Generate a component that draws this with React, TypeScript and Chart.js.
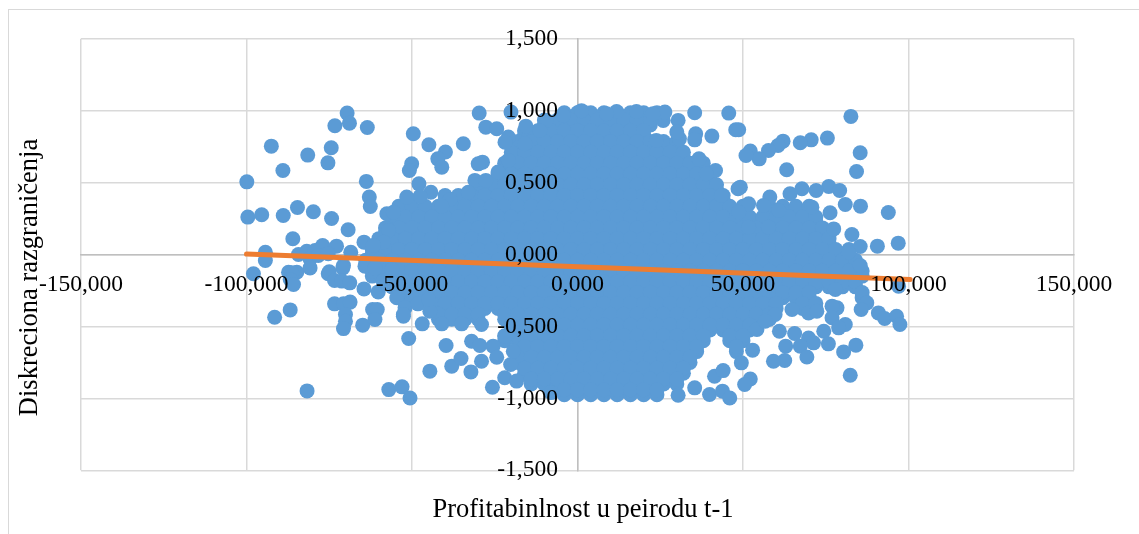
import React, { useEffect, useRef } from "react";
import { Chart, registerables } from "chart.js";

Chart.register(...registerables);

const X_TITLE = "Profitabinlnost u peirodu t-1";
const Y_TITLE = "Diskreciona razgraničenja";

const trendX = [-100, 100.5];
const trendY = [0.003, -0.174];

// outlying points read one by one: [x, y]
const upperLeft = [[-69.6,.983],[-68.9,.913],[-73.3,.895],[-63.5,.883],[-92.5,.753],[-74.4,.742],[-81.5,.691],[-75.4,.637],[-89,.584],[-99.9,.505],[-63.8,.508],[-62.9,.399],[-62.6,.334],[-99.6,.26],[-95.4,.276],[-88.9,.271],[-84.6,.327],[-79.8,.297],[-74.3,.25],[-69.3,.172],[-86,.109],[-64.5,.086],[-94.3,.016],[-94.3,-.042],[-84.3,0],[-81.8,.023],[-79.3,.028],[-77,.063],[-72.8,.058],[-68.5,.016],[-80.8,-.03],[-78.3,-.007],[-75.3,.005],[-70.7,-.076],[-57.6,.283],[-55.6,.294],[-57.1,.167],[-58.6,.086],[-61.7,.063]];
const lowerLeft = [[-97.9,-.134],[-87.3,-.123],[-84.8,-.123],[-75.3,-.134],[-86.3,-.127],[-86.8,-.174],[-85.8,-.209],[-80.8,-.093],[-75,-.12],[-70.9,-.093],[-73.4,-.181],[-71.2,-.185],[-68.8,-.197],[-64.5,-.239],[-60.2,-.26],[-58.7,-.185],[-64.2,-.081],[-61.2,-.093],[-56.1,-.104],[-54.6,-.301],[-52.1,-.371],[-86.8,-.385],[-91.5,-.436],[-73.4,-.343],[-70.7,-.343],[-68.7,-.331],[-70.1,-.417],[-70.1,-.464],[-70.7,-.515],[-64.9,-.491],[-61.9,-.383],[-60.5,-.383],[-61.2,-.452],[-52.6,-.429],[-81.7,-.948],[-57,-.939],[-53,-.92],[-50.6,-.997],[-51,-.584],[-44.6,-.811],[-39.7,-.633],[-38,-.776],[-35.2,-.723],[-32.2,-.816],[-32,-.603],[-29.5,-.633],[-29,-.742],[-25.5,-.637],[-24.4,-.714],[-25.7,-.923],[-22,-.857],[-20.2,-.765],[-46.9,-.482],[-41,-.482],[-35,-.482],[-29,-.487],[-48.2,-.343],[-44.6,-.394],[-45,-.313],[-52.6,-.417],[-21.9,-.568],[-19.4,-.672],[-18.4,-.88],[-8,-.96]];
const lowerRight = [[97,-.22],[87.4,-.336],[85.7,-.382],[90.9,-.406],[92.8,-.445],[96.4,-.429],[97.4,-.487],[80.9,-.487],[78.4,-.371],[76.9,-.359],[76.9,-.44],[74.4,-.533],[78.9,-.51],[64.8,-.382],[69.8,-.406],[72.3,-.394],[65.6,-.549],[61,-.533],[69.8,-.58],[71.3,-.614],[67.3,-.637],[75.8,-.621],[84.1,-.63],[80.4,-.677],[62.9,-.637],[62.6,-.737],[59.2,-.742],[69.3,-.712],[82.4,-.839],[52.9,-.665],[49.5,-.753],[52.2,-.865],[50.5,-.904],[54.2,-.521],[59.7,-.417],[56.7,-.464],[77.9,-.243],[35.4,-.927],[39.9,-.973],[43.8,-.95],[46,-.997],[41.4,-.846],[44,-.807],[30.4,-.978]];
const upperRight = [[82.6,.96],[85.4,.707],[84.3,.577],[75.5,.809],[70.6,.797],[67.3,.777],[62.1,.788],[60.6,.758],[57.7,.723],[52.2,.719],[54.9,.665],[50.9,.688],[48.7,.867],[63.2,.589],[75.9,.473],[79.2,.445],[72.1,.445],[67.8,.457],[64.2,.422],[58.1,.399],[49.2,.468],[51.7,.352],[56.2,.341],[85.5,.336],[80.9,.348],[76.3,.29],[70.8,.329],[93.9,.292],[82.9,.139],[85.4,.056],[90.6,.058],[96.9,.079],[81.9,.016],[77.4,.178],[85.4,-.076],[60.8,.306],[48.7,.294],[51.7,.19],[57.7,.19]];
const topEdge = [[-29.7,.983],[-49.6,.839],[-44.9,.763],[-34.5,.77],[-39.9,.712],[-42.2,.665],[-41,.607],[-50.1,.63],[-50.8,.584],[-28.7,.642],[-30,.63],[-27.7,.885],[-24.4,.874],[-20.1,.99],[-15.6,.892],[-20.9,.816],[-21.9,.781],[-15.9,.77],[-47.9,.491],[-44.3,.433],[-47.6,.403],[-51.6,.399],[-38.5,.382],[-41,.336],[-31,.515],[-27.7,.515],[-33,.433],[-24,.573],[-20.9,.654],[35.4,.985],[45.7,.983],[47.8,.867],[35.7,.839],[35.4,.797],[40.6,.823],[36.7,.665],[41.7,.584],[38.9,.561],[48.5,.457],[43.5,.41],[23.8,.793],[25.9,.932],[30.4,.932],[30.8,.804],[30,.851],[26.4,.99],[22.8,.978],[17.8,.994],[11.8,.994],[8.8,.978],[1.2,1],[-4.3,.967],[-9.4,.932],[-11.4,.862]];

// the solid middle of the cloud, band by band from the top
const coreLevels = [.975,.9,.825,.75,.675,.6,.525,.45,.375,.3,.225,.15,.075,0,-.075,-.15,-.225,-.3,-.375,-.45,-.525,-.6,-.675,-.75,-.825,-.9,-.975];
// a second, in-between set of levels for the same bands
const betweenLevels = [.985,.935,.86,.785,.71,.635,.56,.485,.41,.335,.26,.185,.11,.035,-.04,-.115,-.19,-.265,-.34,-.415,-.49,-.565,-.64,-.715,-.79,-.865,-.94];
const coreBands = [
  [-4,0,4,8,12,16,20,24],
  [-10,-6,-2,2,6,10,14,18,22],
  [-16,-12,-8,-4,0,4,8,12,16,20],
  [-18,-14,-10,-6,-2,2,6,10,14,18,22,26,30],
  [-20,-16,-12,-8,-4,0,4,8,12,16,20,24,28,32],
  [-22,-18,-14,-10,-6,-2,2,6,10,14,18,22,26,30,34,38],
  [-24,-20,-16,-12,-8,-4,0,4,8,12,16,20,24,28,32,36,40],
  [-30,-26,-22,-18,-14,-10,-6,-2,2,6,10,14,18,22,26,30,34,38,42],
  [-40,-36,-32,-28,-24,-20,-16,-12,-8,-4,0,4,8,12,16,20,24,28,32,36,40,44],
  [-54,-50,-46,-42,-38,-34,-30,-26,-22,-18,-14,-10,-6,-2,2,6,10,14,18,22,26,30,34,38,42,46,50,58,62,66,70],
  [-56,-52,-48,-44,-40,-36,-32,-28,-24,-20,-16,-12,-8,-4,0,4,8,12,16,20,24,28,32,36,40,44,48,52,56,60,64,68,72],
  [-58,-54,-50,-46,-42,-38,-34,-30,-26,-22,-18,-14,-10,-6,-2,2,6,10,14,18,22,26,30,34,38,42,46,50,54,58,62,66,70,74],
  [-60,-56,-52,-48,-44,-40,-36,-32,-28,-24,-20,-16,-12,-8,-4,0,4,8,12,16,20,24,28,32,36,40,44,48,52,56,60,64,68,72,76],
  [-62,-58,-54,-50,-46,-42,-38,-34,-30,-26,-22,-18,-14,-10,-6,-2,2,6,10,14,18,22,26,30,34,38,42,46,50,54,58,62,66,70,74,78,82],
  [-64,-60,-56,-52,-48,-44,-40,-36,-32,-28,-24,-20,-16,-12,-8,-4,0,4,8,12,16,20,24,28,32,36,40,44,48,52,56,60,64,68,72,76,80,84],
  [-62,-58,-54,-50,-46,-42,-38,-34,-30,-26,-22,-18,-14,-10,-6,-2,2,6,10,14,18,22,26,30,34,38,42,46,50,54,58,62,66,70,74,78,82,86],
  [-56,-52,-48,-44,-40,-36,-32,-28,-24,-20,-16,-12,-8,-4,0,4,8,12,16,20,24,28,32,36,40,44,48,52,56,60,64,68,72,76,80,84],
  [-54,-50,-46,-42,-38,-34,-30,-26,-22,-18,-14,-10,-6,-2,2,6,10,14,18,22,26,30,34,38,42,46,50,54,58,62,66,70,86],
  [-44,-40,-36,-32,-28,-24,-20,-16,-12,-8,-4,0,4,8,12,16,20,24,28,32,36,40,44,48,52,56,60,68,72],
  [-42,-38,-34,-30,-22,-18,-14,-10,-6,-2,2,6,10,14,18,22,26,30,34,38,42,46,50,54,58],
  [-20,-16,-12,-8,-4,0,4,8,12,16,20,24,28,32,36,40,44,48,52],
  [-22,-18,-14,-10,-6,-2,2,6,10,14,18,22,26,30,34,38,46,50],
  [-16,-12,-8,-4,0,4,8,12,16,20,24,28,32,36,48],
  [-18,-14,-10,-6,-2,2,6,10,14,18,22,26,30,34],
  [-16,-12,-8,-4,0,4,8,12,16,20,24,28,32],
  [-14,-10,-6,-2,2,6,10,14,18,22,26,30],
  [-4,0,4,8,12,16,20,24],
];

const xMin = -150, xMax = 150, xStep = 50;
const yMin = -1.5, yMax = 1.5, yStep = 0.5;

const FONT = '"Liberation Serif"';
const GRID = "#d9d9d9";
const AXIS = "#bfbfbf";

const axisTitles = {
  id: "axisTitles",
  afterDraw(chart: any) {
    const ctx = chart.ctx;
    ctx.save();
    ctx.fillStyle = "#000";
    ctx.font = `26.5px ${FONT}`;
    ctx.textAlign = "center";
    ctx.textBaseline = "middle";
    ctx.fillText(X_TITLE, 583, 510);
    ctx.translate(30, 277.5);
    ctx.rotate(-Math.PI / 2);
    ctx.fillText(Y_TITLE, 0, 0);
    ctx.restore();
  },
};

export default function App() {
  const ref = useRef<HTMLCanvasElement>(null);
  useEffect(() => {
    const core = coreBands.flatMap((band, i) => band.map((x) => ({ x, y: coreLevels[i] })));
    const between = coreBands.flatMap((band, i) => band.map((x) => ({ x, y: betweenLevels[i] })));
    const loose = [...upperLeft, ...lowerLeft, ...lowerRight, ...upperRight, ...topEdge].map(([x, y]) => ({ x, y }));
    const chart = new Chart(ref.current!, {
      type: "scatter",
      data: {
        datasets: [
          {
            data: trendX.map((x, i) => ({ x, y: trendY[i] })),
            showLine: true,
            borderColor: "#ED7D31",
            borderWidth: 5,
            borderCapStyle: "round",
            pointRadius: 0,
            order: 1,
          },
          {
            data: [...core, ...between, ...loose],
            backgroundColor: "#5B9BD5",
            borderWidth: 0,
            pointRadius: 7.5,
            order: 2,
          },
        ],
      },
      options: {
        animation: false,
        responsive: false,
        layout: { padding: { left: 81, right: 65, top: 38.7, bottom: 63.7 } },
        plugins: { legend: { display: false }, tooltip: { enabled: false } },
        scales: {
          x: {
            type: "linear",
            min: xMin,
            max: xMax,
            position: { y: 0 },
            grid: { color: GRID, lineWidth: 1.5, drawTicks: false },
            border: { color: AXIS, width: 1.5 },
            ticks: {
              stepSize: xStep,
              autoSkip: false,
              maxRotation: 0,
              padding: 16,
              z: 1,
              color: "#000",
              font: { family: FONT, size: 23.5 },
              callback: (v: any) => Number(v).toFixed(3).replace(".", ","),
            },
          },
          y: {
            type: "linear",
            min: yMin,
            max: yMax,
            position: { x: 0 },
            grid: { color: GRID, lineWidth: 1.5, drawTicks: false },
            border: { color: AXIS, width: 1.5 },
            ticks: {
              stepSize: yStep,
              autoSkip: false,
              z: 1,
              color: "#000",
              font: { family: FONT, size: 23.5 },
              callback: (v: any) => Number(v).toFixed(3).replace(".", ",") + "\u00a0\u00a0\u00a0\u200a",
            },
          },
        },
      },
      plugins: [axisTitles],
    } as any);
    return () => chart.destroy();
  }, []);
  return (
    <div style={{ position: "absolute", left: 0, top: 0, width: 1139, height: 534, overflow: "hidden", background: "#fff" }}>
      <div style={{ position: "absolute", left: 8, top: 9, right: -2, bottom: -2, borderLeft: "1.5px solid #d9d9d9", borderTop: "1.5px solid #d9d9d9" }} />
      <canvas ref={ref} width={1139} height={534} style={{ position: "absolute", left: 0, top: 0, display: "block" }} />
    </div>
  );
}
